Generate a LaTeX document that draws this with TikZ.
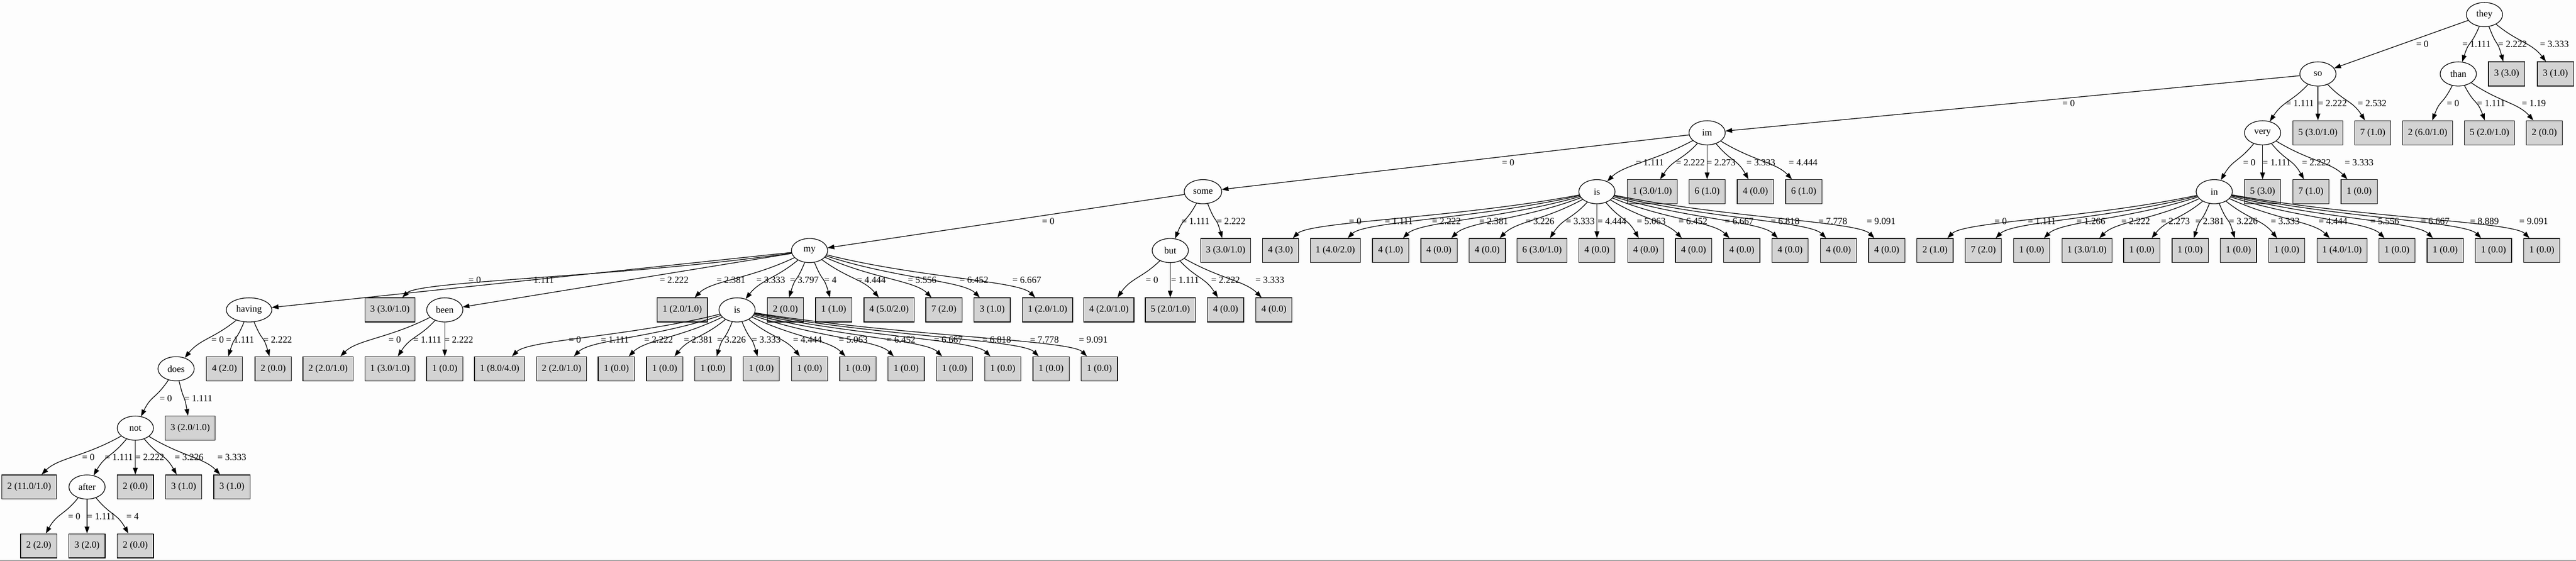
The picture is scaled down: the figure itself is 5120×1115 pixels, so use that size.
\documentclass[tikz,border=0pt]{standalone}
\usepackage{fontspec}
\setmainfont{Liberation Serif}
\usetikzlibrary{shapes.geometric,arrows.meta,calc}
\definecolor{leafgray}{RGB}{211,211,211}
\definecolor{pagebg}{RGB}{253,253,253}
\definecolor{rulegray}{RGB}{160,160,160}
\newcommand\gvfont{\fontsize{14pt}{16pt}\selectfont}
\tikzset{
 inode/.style={draw, ellipse, line width=1pt, minimum width=54pt, minimum height=36pt, inner xsep=5pt, inner ysep=0pt, font=\gvfont},
 leafbox/.style={draw, rectangle, fill=leafgray, line width=1pt, minimum width=54pt, minimum height=36pt, inner xsep=8pt, inner ysep=0pt, font=\gvfont},
 elabel/.style={anchor=west, inner sep=0pt, font=\gvfont},
 gvedge/.style={line width=1pt, -{Triangle[length=10pt,width=7pt]}},
}
\newcommand\IN[4]{\node[inode] (#1) at (#2,#3) {#4};}
\newcommand\LF[4]{\node[leafbox] (#1) at (#2,#3) {#4};}
\newcommand\EL[4]{\node[elabel] (#1) at (#2,#3) {#4};}
\newcommand\SE[2]{\draw[gvedge] (#1) -- (#2);}
\newcommand\CE[2]{\draw[gvedge] let \p1=(#1.center), \p2=(#2.center),
 \n7={scalar(\x2-\x1)},
 \n8={scalar(\y1-\y2)},
 \n1={atan(\n7/\n8)},
 \n2={2*(\n7>0)-1},
 \n3={-90+\n1},
 \n4={90+\n2*min(45,0.75*abs(\n1))},
 \n5={max(0.4*abs(\n7),0.4*\n8)},
 \n6={0.4*\n8}
 in (#1) to[out=\n3, in=\n4, out distance=\n5 pt, in distance=\n6 pt] (#2);}
\begin{document}
\begin{tikzpicture}[x=0.75pt,y=-0.75pt]
\fill[pagebg] (0,0) rectangle (5120,1115);
\useasboundingbox (0,0) rectangle (5120,1115);
\draw[rulegray, line width=1.2pt] (0,1114) -- (5120,1114);
% level 0
\IN{they}{4938}{29}{they}
% level 1
\IN{so}{4607}{147}{so}
\IN{than}{4886}{147}{than}
\LF{a1}{4982}{147}{3 (3.0)}
\LF{a2}{5079}{147}{3 (1.0)}
% level 2
\IN{im}{3393}{264}{im}
\IN{very}{4497}{264}{very}
\LF{b1}{4607}{264}{5 (3.0/1.0)}
\LF{b2}{4716}{264}{7 (1.0)}
\LF{b3}{4825}{264}{2 (6.0/1.0)}
\LF{b4}{4948}{264}{5 (2.0/1.0)}
\LF{b5}{5057}{264}{2 (0.0)}
% level 3
\IN{some}{2391}{381}{some}
\IN{isa}{3174}{381}{is}
\LF{c1}{3284}{381}{1 (3.0/1.0)}
\LF{c2}{3393}{381}{6 (1.0)}
\LF{c3}{3489}{381}{4 (0.0)}
\LF{c4}{3585}{381}{6 (1.0)}
\IN{inn}{4401}{381}{in}
\LF{c5}{4497}{381}{5 (3.0)}
\LF{c6}{4593}{381}{7 (1.0)}
\LF{c7}{4689}{381}{1 (0.0)}
% level 4
\IN{my}{1609}{498}{my}
\IN{but}{2326}{498}{but}
\LF{d0}{2436}{498}{3 (3.0/1.0)}
\LF{d1}{2545}{498}{4 (3.0)}
\LF{d2}{2654}{498}{1 (4.0/2.0)}
\LF{d3}{2764}{498}{4 (1.0)}
\LF{d4}{2860}{498}{4 (0.0)}
\LF{d5}{2956}{498}{4 (0.0)}
\LF{d6}{3065}{498}{6 (3.0/1.0)}
\LF{d7}{3174}{498}{4 (0.0)}
\LF{d8}{3271}{498}{4 (0.0)}
\LF{d9}{3366}{498}{4 (0.0)}
\LF{d10}{3462}{498}{4 (0.0)}
\LF{d11}{3558}{498}{4 (0.0)}
\LF{d12}{3654}{498}{4 (0.0)}
\LF{d13}{3750}{498}{4 (0.0)}
\LF{e1}{3846}{498}{2 (1.0)}
\LF{e2}{3942}{498}{7 (2.0)}
\LF{e3}{4038}{498}{1 (0.0)}
\LF{e4}{4148}{498}{1 (3.0/1.0)}
\LF{e5}{4257}{498}{1 (0.0)}
\LF{e6}{4353}{498}{1 (0.0)}
\LF{e7}{4449}{498}{1 (0.0)}
\LF{e8}{4545}{498}{1 (0.0)}
\LF{e9}{4655}{498}{1 (4.0/1.0)}
\LF{e10}{4764}{498}{1 (0.0)}
\LF{e11}{4860}{498}{1 (0.0)}
\LF{e12}{4956}{498}{1 (0.0)}
\LF{e13}{5052}{498}{1 (0.0)}
% level 5
\IN{having}{495}{616}{having}
\LF{f1}{775}{616}{3 (3.0/1.0)}
\IN{been}{884}{616}{been}
\LF{f2}{1356}{616}{1 (2.0/1.0)}
\IN{isb}{1465}{616}{is}
\LF{f3}{1561}{616}{2 (0.0)}
\LF{f4}{1657}{616}{1 (1.0)}
\LF{f5}{1767}{616}{4 (5.0/2.0)}
\LF{f6}{1876}{616}{7 (2.0)}
\LF{f7}{1972}{616}{3 (1.0)}
\LF{f8}{2082}{616}{1 (2.0/1.0)}
\LF{g1}{2204}{616}{4 (2.0/1.0)}
\LF{g2}{2326}{616}{5 (2.0/1.0)}
\LF{g3}{2436}{616}{4 (0.0)}
\LF{g4}{2532}{616}{4 (0.0)}
% level 6
\IN{does}{350}{733}{does}
\LF{h1}{446}{733}{4 (2.0)}
\LF{h2}{543}{733}{2 (0.0)}
\LF{k1}{652}{733}{2 (2.0/1.0)}
\LF{k2}{775}{733}{1 (3.0/1.0)}
\LF{k3}{884}{733}{1 (0.0)}
\LF{m1}{993}{733}{1 (8.0/4.0)}
\LF{m2}{1116}{733}{2 (2.0/1.0)}
\LF{m3}{1225}{733}{1 (0.0)}
\LF{m4}{1321}{733}{1 (0.0)}
\LF{m5}{1417}{733}{1 (0.0)}
\LF{m6}{1513}{733}{1 (0.0)}
\LF{m7}{1609}{733}{1 (0.0)}
\LF{m8}{1705}{733}{1 (0.0)}
\LF{m9}{1801}{733}{1 (0.0)}
\LF{m10}{1897}{733}{1 (0.0)}
\LF{m11}{1993}{733}{1 (0.0)}
\LF{m12}{2089}{733}{1 (0.0)}
\LF{m13}{2185}{733}{1 (0.0)}
% level 7
\IN{nott}{269}{851}{not}
\LF{n1}{378}{851}{3 (2.0/1.0)}
% level 8
\LF{p1}{58}{968}{2 (11.0/1.0)}
\IN{after}{173}{968}{after}
\LF{p2}{269}{968}{2 (0.0)}
\LF{p3}{365}{968}{3 (1.0)}
\LF{p4}{461}{968}{3 (1.0)}
% level 9
\LF{q1}{77}{1085}{2 (2.0)}
\LF{q2}{173}{1085}{3 (2.0)}
\LF{q3}{269}{1085}{2 (0.0)}
% ---------- edges ----------
\SE{they}{so} \CE{they}{than} \CE{they}{a1} \CE{they}{a2}
\SE{so}{im} \CE{so}{very} \CE{so}{b1} \CE{so}{b2}
\CE{than}{b3} \CE{than}{b4} \CE{than}{b5}
\SE{im}{some} \CE{im}{isa} \CE{im}{c1} \CE{im}{c2} \CE{im}{c3} \CE{im}{c4}
\CE{very}{inn} \CE{very}{c5} \CE{very}{c6} \CE{very}{c7}
\SE{some}{my} \CE{some}{but} \CE{some}{d0}
\CE{isa}{d1} \CE{isa}{d2} \CE{isa}{d3} \CE{isa}{d4} \CE{isa}{d5} \CE{isa}{d6} \CE{isa}{d7}
\CE{isa}{d8} \CE{isa}{d9} \CE{isa}{d10} \CE{isa}{d11} \CE{isa}{d12} \CE{isa}{d13}
\CE{inn}{e1} \CE{inn}{e2} \CE{inn}{e3} \CE{inn}{e4} \CE{inn}{e5} \CE{inn}{e6} \CE{inn}{e7}
\CE{inn}{e8} \CE{inn}{e9} \CE{inn}{e10} \CE{inn}{e11} \CE{inn}{e12} \CE{inn}{e13}
\SE{my}{having} \CE{my}{f1} \SE{my}{been} \CE{my}{f2} \CE{my}{isb} \CE{my}{f3} \CE{my}{f4}
\CE{my}{f5} \CE{my}{f6} \CE{my}{f7} \CE{my}{f8}
\CE{but}{g1} \CE{but}{g2} \CE{but}{g3} \CE{but}{g4}
\CE{having}{does} \CE{having}{h1} \CE{having}{h2}
\CE{been}{k1} \CE{been}{k2} \CE{been}{k3}
\CE{isb}{m1} \CE{isb}{m2} \CE{isb}{m3} \CE{isb}{m4} \CE{isb}{m5} \CE{isb}{m6} \CE{isb}{m7}
\CE{isb}{m8} \CE{isb}{m9} \CE{isb}{m10} \CE{isb}{m11} \CE{isb}{m12} \CE{isb}{m13}
\CE{does}{nott} \CE{does}{n1}
\CE{nott}{p1} \CE{nott}{after} \CE{nott}{p2} \CE{nott}{p3} \CE{nott}{p4}
\CE{after}{q1} \CE{after}{q2} \CE{after}{q3}
% ---------- labels ----------
\EL{lt1}{4802}{88}{= 0} \EL{lt2}{4894}{88}{= 1.111} \EL{lt3}{4965}{88}{= 2.222} \EL{lt4}{5048}{88}{= 3.333}
\EL{ls1}{4099}{205}{= 0} \EL{ls2}{4543}{205}{= 1.111} \EL{ls3}{4607}{205}{= 2.222} \EL{ls4}{4686}{205}{= 2.532}
\EL{lh1}{4863}{205}{= 0} \EL{lh2}{4923}{205}{= 1.111} \EL{lh3}{5012}{205}{= 1.19}
\EL{li1}{2985}{323}{= 0} \EL{li2}{3251}{323}{= 1.111} \EL{li3}{3331}{323}{= 2.222} \EL{li4}{3392}{323}{= 2.273}
\EL{li5}{3471}{323}{= 3.333} \EL{li6}{3555}{323}{= 4.444}
\EL{lv1}{4458}{323}{= 0} \EL{lv2}{4497}{323}{= 1.111} \EL{lv3}{4575}{323}{= 2.222} \EL{lv4}{4660}{323}{= 3.333}
\EL{lo1}{2071}{440}{= 0} \EL{lo2}{2348}{440}{= 1.111} \EL{lo3}{2418}{440}{= 2.222}
\EL{la1}{2681}{440}{= 0} \EL{la2}{2752}{440}{= 1.111} \EL{la3}{2846}{440}{= 2.222} \EL{la4}{2940}{440}{= 2.381}
\EL{la5}{3032}{440}{= 3.226} \EL{la6}{3112}{440}{= 3.333} \EL{la7}{3175}{440}{= 4.444} \EL{la8}{3253}{440}{= 5.063}
\EL{la9}{3336}{440}{= 6.452} \EL{la10}{3428}{440}{= 6.667} \EL{la11}{3519}{440}{= 6.818} \EL{la12}{3614}{440}{= 7.778}
\EL{la13}{3710}{440}{= 9.091}
\EL{ln1}{3964}{440}{= 0} \EL{ln2}{4030}{440}{= 1.111} \EL{ln3}{4127}{440}{= 1.266} \EL{ln4}{4216}{440}{= 2.222}
\EL{ln5}{4295}{440}{= 2.273} \EL{ln6}{4363}{440}{= 2.381} \EL{ln7}{4430}{440}{= 3.226} \EL{ln8}{4513}{440}{= 3.333}
\EL{ln9}{4608}{440}{= 4.444} \EL{ln10}{4711}{440}{= 5.556} \EL{ln11}{4811}{440}{= 6.667} \EL{ln12}{4909}{440}{= 8.889}
\EL{ln13}{5007}{440}{= 9.091}
\EL{lm1}{931}{557}{= 0} \EL{lm2}{1045}{557}{= 1.111} \EL{lm3}{1311}{557}{= 2.222} \EL{lm4}{1424}{557}{= 2.381}
\EL{lm5}{1503}{557}{= 3.333} \EL{lm6}{1570}{557}{= 3.797} \EL{lm7}{1638}{557}{= 4} \EL{lm8}{1703}{557}{= 4.444}
\EL{lm9}{1804}{557}{= 5.556} \EL{lm10}{1907}{557}{= 6.452} \EL{lm11}{2012}{557}{= 6.667}
\EL{lb1}{2277}{557}{= 0} \EL{lb2}{2327}{557}{= 1.111} \EL{lb3}{2407}{557}{= 2.222} \EL{lb4}{2495}{557}{= 3.333}
\EL{lg1}{420}{675}{= 0} \EL{lg2}{449}{675}{= 1.111} \EL{lg3}{523}{675}{= 2.222}
\EL{le1}{772}{675}{= 0} \EL{le2}{821}{675}{= 1.111} \EL{le3}{883}{675}{= 2.222}
\EL{lz1}{1130}{675}{= 0} \EL{lz2}{1194}{675}{= 1.111} \EL{lz3}{1280}{675}{= 2.222} \EL{lz4}{1359}{675}{= 2.381}
\EL{lz5}{1425}{675}{= 3.226} \EL{lz6}{1494}{675}{= 3.333} \EL{lz7}{1576}{675}{= 4.444} \EL{lz8}{1667}{675}{= 5.063}
\EL{lz9}{1762}{675}{= 6.452} \EL{lz10}{1856}{675}{= 6.667} \EL{lz11}{1952}{675}{= 6.818} \EL{lz12}{2047}{675}{= 7.778}
\EL{lz13}{2144}{675}{= 9.091}
\EL{ld1}{317}{792}{= 0} \EL{ld2}{366}{792}{= 1.111}
\EL{lx1}{163}{909}{= 0} \EL{lx2}{208}{909}{= 1.111} \EL{lx3}{269}{909}{= 2.222} \EL{lx4}{347}{909}{= 3.226}
\EL{lx5}{432}{909}{= 3.333}
\EL{lf1}{135}{1027}{= 0} \EL{lf2}{173}{1027}{= 1.111} \EL{lf3}{251}{1027}{= 4}
\end{tikzpicture}
\end{document}
